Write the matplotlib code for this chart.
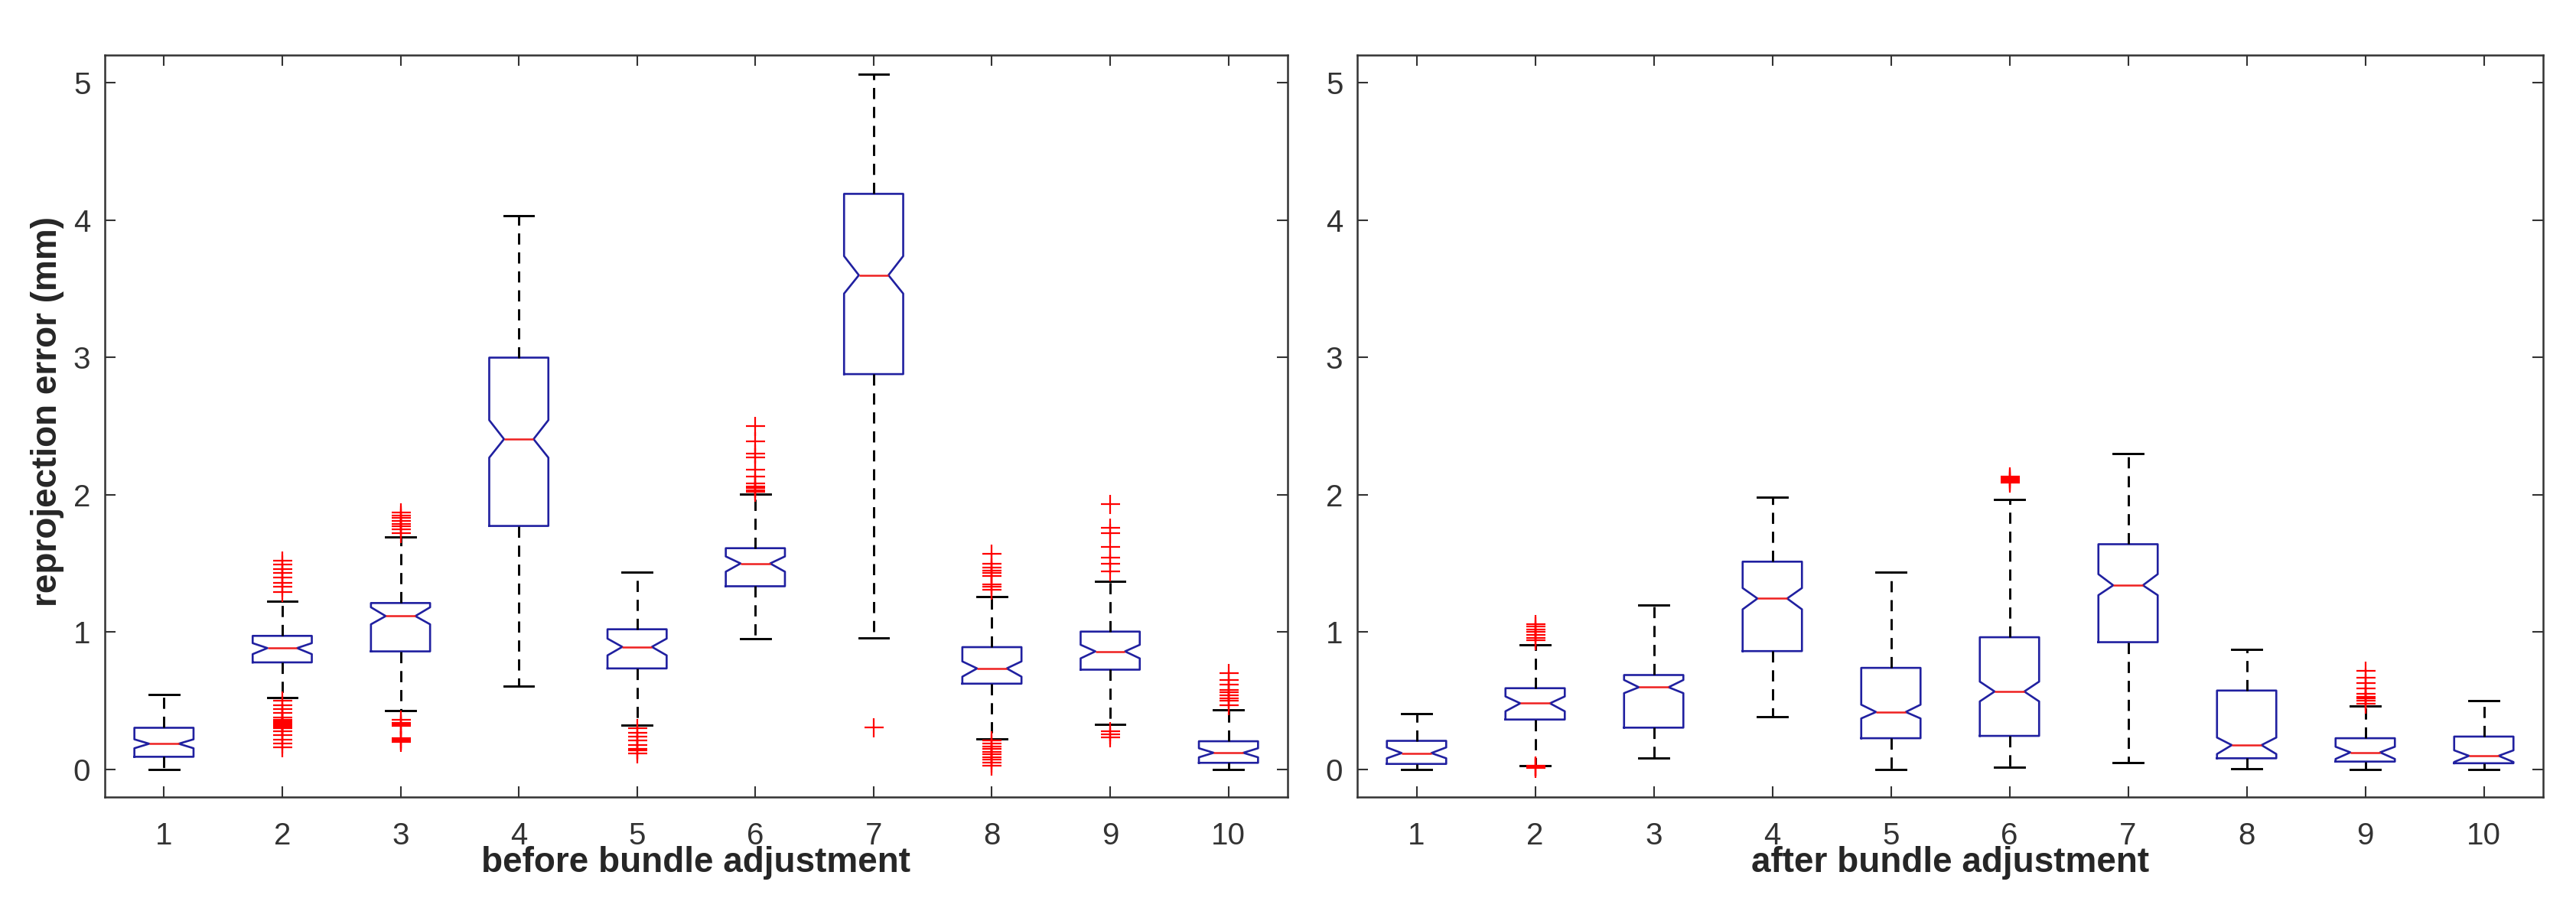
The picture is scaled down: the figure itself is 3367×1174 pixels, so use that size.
import matplotlib.pyplot as plt

plt.rcParams["font.family"] = ["Liberation Sans", "DejaVu Sans"]

positions = list(range(1, 11))
tick_labels = [str(p) for p in positions]
yticks = [0, 1, 2, 3, 4, 5]

# before bundle adjustment
before_q1 = [0.093, 0.78, 0.86, 1.773, 0.736, 1.334, 2.878, 0.625, 0.727, 0.049]
before_med = [0.188, 0.884, 1.117, 2.405, 0.893, 1.50, 3.598, 0.736, 0.86, 0.122]
before_q3 = [0.304, 0.973, 1.212, 2.998, 1.021, 1.611, 4.19, 0.891, 1.004, 0.206]
before_lo = [0.0, 0.525, 0.428, 0.609, 0.321, 0.951, 0.959, 0.222, 0.328, 0.0]
before_hi = [0.547, 1.225, 1.69, 4.033, 1.436, 2.005, 5.058, 1.259, 1.372, 0.437]
before_cilo = [0.155, 0.84, 1.057, 2.27, 0.831, 1.44, 3.464, 0.676, 0.809, 0.089]
before_cihi = [0.22, 0.92, 1.181, 2.543, 0.953, 1.551, 3.737, 0.787, 0.908, 0.155]
before_out = [
    [],
    [1.29, 1.33, 1.36, 1.40, 1.43, 1.46, 1.49, 1.52,
     0.50, 0.47, 0.44, 0.41, 0.38, 0.36, 0.35, 0.34, 0.33, 0.32, 0.31,
     0.30, 0.28, 0.25, 0.22, 0.19, 0.16],
    [1.72, 1.75, 1.77, 1.79, 1.81, 1.83, 1.85, 1.87,
     0.36, 0.34, 0.33, 0.32, 0.23, 0.22, 0.21, 0.20],
    [],
    [0.30, 0.27, 0.24, 0.21, 0.18, 0.15, 0.14, 0.12],
    [2.02, 2.03, 2.05, 2.06, 2.08, 2.13, 2.18, 2.27, 2.30, 2.39, 2.50],
    [0.304],
    [1.31, 1.33, 1.35, 1.41, 1.43, 1.45, 1.47, 1.50, 1.57,
     0.21, 0.19, 0.17, 0.15, 0.13, 0.11, 0.09, 0.07, 0.05, 0.03],
    [1.44, 1.50, 1.54, 1.62, 1.72, 1.76, 1.93, 0.28, 0.255, 0.233],
    [0.47, 0.50, 0.52, 0.54, 0.56, 0.58, 0.62, 0.65, 0.70],
]

# after bundle adjustment
after_q1 = [0.041, 0.364, 0.305, 0.862, 0.228, 0.245, 0.927, 0.082, 0.058, 0.046]
after_med = [0.12, 0.482, 0.599, 1.245, 0.419, 0.568, 1.341, 0.178, 0.125, 0.10]
after_q3 = [0.209, 0.592, 0.688, 1.513, 0.74, 0.963, 1.64, 0.575, 0.228, 0.24]
after_lo = [0.0, 0.03, 0.082, 0.384, 0.0, 0.017, 0.048, 0.005, 0.0, 0.0]
after_hi = [0.405, 0.91, 1.20, 1.98, 1.436, 1.967, 2.297, 0.872, 0.46, 0.50]
after_cilo = [0.082, 0.424, 0.556, 1.166, 0.372, 0.496, 1.269, 0.113, 0.077, 0.055]
after_cihi = [0.161, 0.532, 0.652, 1.321, 0.472, 0.64, 1.422, 0.233, 0.166, 0.14]
after_out = [
    [],
    [0.94, 0.96, 0.98, 1.00, 1.02, 1.04, 1.06, 0.03, 0.025, 0.02, 0.01],
    [],
    [],
    [],
    [2.09, 2.10, 2.11, 2.12, 2.13],
    [],
    [],
    [0.48, 0.50, 0.52, 0.53, 0.55, 0.59, 0.63, 0.67, 0.72],
    [],
]


def makeStats(q1, med, q3, lo, hi, cilo, cihi, out):
    return [
        dict(q1=a, med=b, q3=c, whislo=d, whishi=e, cilo=f, cihi=g, fliers=h)
        for a, b, c, d, e, f, g, h in zip(q1, med, q3, lo, hi, cilo, cihi, out)
    ]


fig = plt.figure(figsize=(33.67, 11.74), dpi=100)
axLeft = fig.add_axes([0.04069, 0.11244, 0.45916, 0.82624])
axRight = fig.add_axes([0.52688, 0.11244, 0.46035, 0.82624])

panels = [
    (axLeft, makeStats(before_q1, before_med, before_q3, before_lo, before_hi,
                       before_cilo, before_cihi, before_out),
     "before bundle adjustment"),
    (axRight, makeStats(after_q1, after_med, after_q3, after_lo, after_hi,
                        after_cilo, after_cihi, after_out),
     "after bundle adjustment"),
]

for ax, stats, xlabel in panels:
    ax.bxp(
        stats,
        positions=positions,
        widths=0.5,
        shownotches=True,
        showfliers=True,
        boxprops=dict(color="#2020a0", linewidth=1.9),
        whiskerprops=dict(color="black", linewidth=2.1, linestyle=(0, (5, 3.5))),
        capprops=dict(color="black", linewidth=2.1),
        medianprops=dict(color="#ee2020", linewidth=1.8),
        flierprops=dict(marker="+", markeredgecolor="red", markersize=18,
                        markeredgewidth=1.6, linestyle="none"),
    )
    ax.set_xlim(0.5, 10.5)
    ax.set_ylim(-0.2, 5.2)
    ax.set_xticks(positions)
    ax.set_xticklabels(tick_labels)
    ax.set_yticks(yticks)
    ax.set_yticklabels([str(v) for v in yticks])
    ax.tick_params(direction="in", top=True, right=True, length=10, width=1.5,
                   colors="#333333", labelcolor="#333333", labelsize=29)
    ax.tick_params(axis="x", pad=23)
    ax.tick_params(axis="y", pad=13.5)
    for spine in ax.spines.values():
        spine.set_color("#333333")
        spine.set_linewidth(1.8)
    ax.set_xlabel(xlabel, fontsize=33, fontweight="bold", color="#262626")
    ax.xaxis.set_label_coords(0.5, -0.066)

axLeft.set_ylabel("reprojection error (mm)", fontsize=33, fontweight="bold",
                  color="#262626")
axLeft.yaxis.set_label_coords(-0.034, 0.52)

fig.savefig("out.png", dpi=100)
